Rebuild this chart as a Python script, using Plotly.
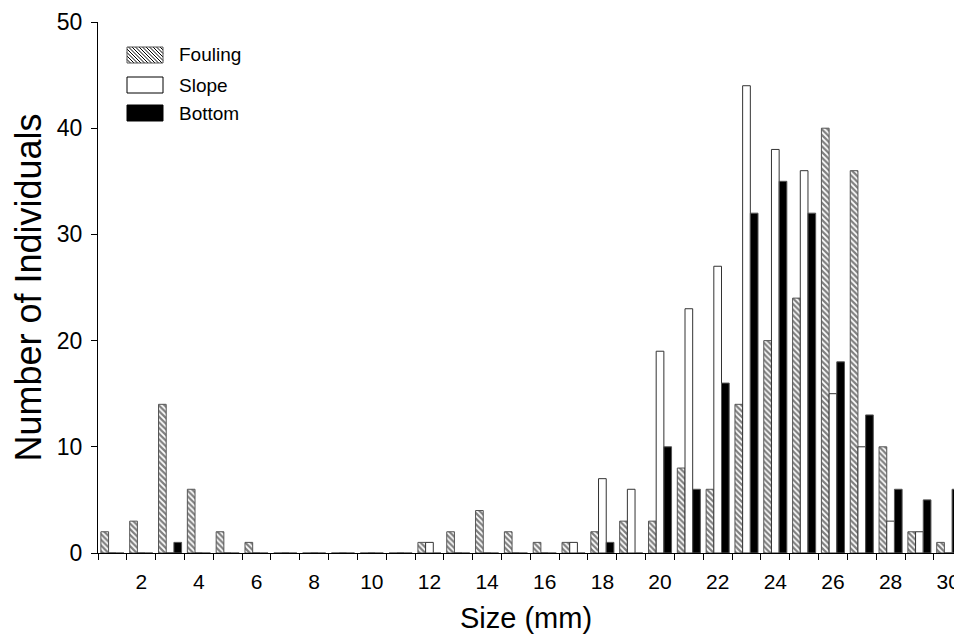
import plotly.graph_objects as go

sizes = list(range(1, 31))
fouling = [2, 3, 14, 6, 2, 1, 0, 0, 0, 0, 0, 1, 2, 4, 2, 1, 1, 2, 3, 3, 8, 6, 14, 20, 24, 40, 36, 10, 2, 1]
slope = [0, 0, 0, 0, 0, 0, 0, 0, 0, 0, 0, 1, 0, 0, 0, 0, 1, 7, 6, 19, 23, 27, 44, 38, 36, 15, 10, 3, 2, 0]
bottom = [0, 0, 1, 0, 0, 0, 0, 0, 0, 0, 0, 0, 0, 0, 0, 0, 0, 1, 0, 10, 6, 16, 32, 35, 32, 18, 13, 6, 5, 6]
series_names = ["Fouling", "Slope", "Bottom"]
x_tick_vals = list(range(2, 31, 2))
y_tick_vals = [0, 10, 20, 30, 40, 50]

font = "Liberation Sans, Arial, sans-serif"
edge = dict(color="#555555", width=1)
OFF = 8  # page body offset
W, H = 962 - 2 * OFF, 642 - 2 * OFF
ML, MR, MT = 98 - OFF, 0, 22 - OFF
MB = H - (553 - OFF)

fig = go.Figure()
fig.add_trace(go.Bar(
    x=sizes, y=fouling, name=series_names[0],
    marker=dict(color="white", line=edge,
                pattern=dict(shape="\\", size=4, solidity=0.55, fgcolor="black", bgcolor="white")),
))
fig.add_trace(go.Bar(
    x=sizes, y=slope, name=series_names[1],
    marker=dict(color="white", line=dict(color="#333333", width=1)),
))
fig.add_trace(go.Bar(
    x=sizes, y=bottom, name=series_names[2],
    marker=dict(color="black", line=edge),
))

# ---- manual legend (swatches + labels); pixel positions as seen on the page ----
def px_to_paper_x(px):
    return (px - OFF - ML) / (W - ML - MR)

def px_to_paper_y(py):
    return 1 - (py - OFF - MT) / (H - MT - MB)

shapes = []
annotations = []
sw_x0, sw_x1 = 127, 163
rows = [(47, 63), (77, 93), (105, 121)]
fills = ["white", "white", "black"]
for i, (y0, y1) in enumerate(rows):
    if i == 0:
        step = 3.5
        w, h = sw_x1 - sw_x0, y1 - y0
        c = -h
        while c < w:
            t0 = max(0, -c)
            t1 = min(h, w - c)
            if t1 > t0:
                shapes.append(dict(type="line", xref="paper", yref="paper",
                                   x0=px_to_paper_x(sw_x0 + c + t0), y0=px_to_paper_y(y0 + t0),
                                   x1=px_to_paper_x(sw_x0 + c + t1), y1=px_to_paper_y(y0 + t1),
                                   line=dict(color="black", width=1)))
            c += step
        shapes.append(dict(type="rect", xref="paper", yref="paper",
                           x0=px_to_paper_x(sw_x0), x1=px_to_paper_x(sw_x1),
                           y0=px_to_paper_y(y1), y1=px_to_paper_y(y0),
                           line=dict(color="#555555", width=1), fillcolor="rgba(0,0,0,0)"))
    else:
        shapes.append(dict(type="rect", xref="paper", yref="paper",
                           x0=px_to_paper_x(sw_x0), x1=px_to_paper_x(sw_x1),
                           y0=px_to_paper_y(y1), y1=px_to_paper_y(y0),
                           line=dict(color="black", width=1), fillcolor=fills[i]))
    annotations.append(dict(xref="paper", yref="paper", x=px_to_paper_x(177), y=px_to_paper_y((y0 + y1) / 2),
                            xanchor="left", yanchor="middle", text=series_names[i], showarrow=False,
                            font=dict(size=19, family=font, color="black")))

fig.update_layout(
    width=W, height=H,
    margin=dict(l=ML, r=MR, t=MT, b=MB, autoexpand=False),
    paper_bgcolor="white", plot_bgcolor="white",
    barmode="group", bargap=0.2, bargroupgap=0,
    font=dict(family=font, size=22, color="black"),
    showlegend=False,
    shapes=shapes,
    annotations=annotations,
    xaxis=dict(
        range=[0.5, 30.2], automargin=False,
        tickmode="array", tickvals=x_tick_vals, ticktext=[str(v) for v in x_tick_vals],
        ticks="", ticklabelstandoff=10, ticklabeloverflow="allow",
        showgrid=False, zeroline=False,
        showline=True, linecolor="black", linewidth=1,
        minor=dict(ticks="outside", tick0=0.5, dtick=1, ticklen=6, tickcolor="black", showgrid=False),
        title=dict(text="Size (mm)", font=dict(size=29), standoff=20),
        tickfont=dict(size=21),
    ),
    yaxis=dict(
        range=[0, 50], automargin=False,
        tickmode="array", tickvals=y_tick_vals,
        ticks="outside", ticklen=6, tickcolor="black", ticklabelstandoff=4,
        showgrid=False, zeroline=False,
        showline=True, linecolor="black", linewidth=1,
        title=dict(text="Number of Individuals", font=dict(size=36), standoff=5),
        tickfont=dict(size=23),
    ),
)

fig.write_html("out.html")
